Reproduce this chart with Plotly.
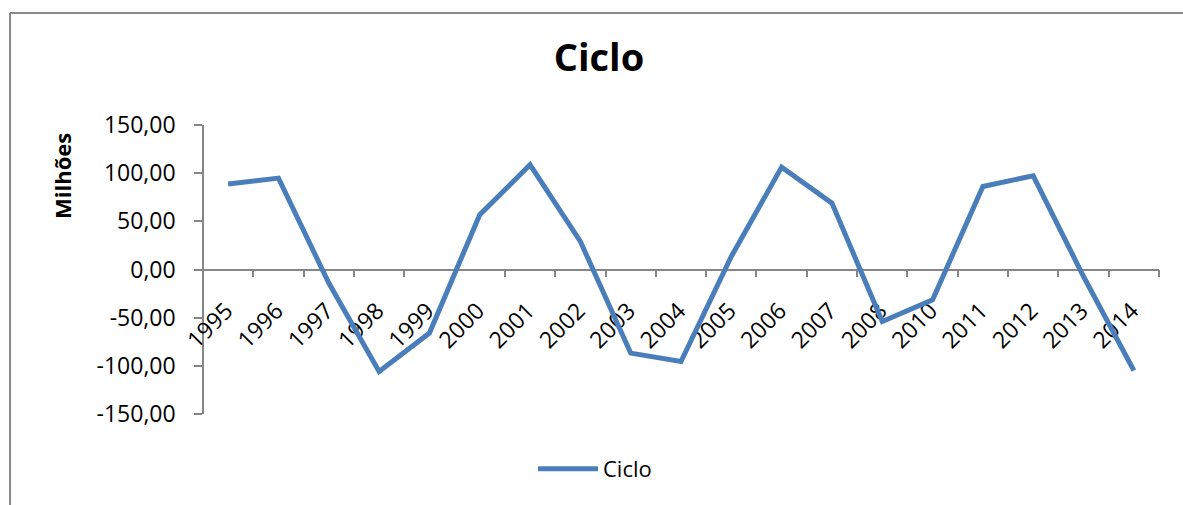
import plotly.graph_objects as go

# Cycle component of the series, in millions
years = ["1995", "1996", "1997", "1998", "1999", "2000", "2001", "2002", "2003", "2004",
         "2005", "2006", "2007", "2008", "2010", "2011", "2012", "2013", "2014"]
ciclo = [88.7, 94.9, -14.1, -105.9, -66.0, 56.8, 108.7, 29.1, -86.8, -95.5,
         13.5, 106.3, 68.9, -54.0, -31.5, 86.2, 97.3, -7.3, -104.9]

y_tick_vals = [-150, -100, -50, 0, 50, 100, 150]
y_tick_text = ["-150,00", "-100,00", "-50,00", "0,00", "50,00", "100,00", "150,00"]

W, H = 1183, 505
L, R, T, B = 203, 24, 125, 91
PW, PH = W - L - R, H - T - B

def px(x):
    return (x - L) / PW

def py(y):
    return (H - B - y) / PH

FONT = "Open Sans"
AXIS_GREY = "#868686"
BLUE = "#4A7EBB"

fig = go.Figure()
fig.add_trace(go.Scatter(
    x=years, y=ciclo, mode="lines", name="Ciclo",
    line=dict(color=BLUE, width=5),
))

fig.update_layout(
    width=W, height=H,
    margin=dict(l=L, r=R, t=T, b=B),
    paper_bgcolor="white", plot_bgcolor="white",
    font=dict(family=FONT, color="black", size=23),
    title=dict(text="<b>Ciclo</b>", x=599 / W, y=1 - 58 / H,
               xanchor="center", yanchor="middle",
               font=dict(family=FONT, size=38, color="black")),
    showlegend=True,
    legend=dict(orientation="h", x=px(595), y=py(469),
                xanchor="center", yanchor="middle",
                itemwidth=60,
                font=dict(family=FONT, size=22, color="black"),
                bgcolor="rgba(0,0,0,0)"),
    xaxis=dict(
        type="category", anchor="free", position=0.5,
        range=[-0.5, len(years) - 0.5],
        showline=True, linecolor=AXIS_GREY, linewidth=1.5,
        showgrid=False, zeroline=False,
        ticks="outside", tickson="boundaries", ticklen=7,
        tickwidth=1.5, tickcolor=AXIS_GREY,
        tickangle=-45, ticklabelstandoff=18, ticklabelshift=-2,
        tickfont=dict(family=FONT, size=23, color="black"),
        layer="below traces",
    ),
    yaxis=dict(
        range=[-150, 150], anchor="free", position=0,
        tickvals=y_tick_vals, ticktext=y_tick_text,
        showline=True, linecolor=AXIS_GREY, linewidth=1.5,
        showgrid=False, zeroline=False,
        ticks="outside", ticklen=8, tickwidth=1.5, tickcolor=AXIS_GREY,
        ticklabelstandoff=14,
        tickfont=dict(family=FONT, size=23, color="black"),
        layer="below traces",
    ),
)

# Y-axis title
fig.add_annotation(
    text="<b>Milhões</b>", textangle=-90, showarrow=False,
    xref="paper", yref="paper", x=px(62), y=py(176),
    xanchor="center", yanchor="middle",
    font=dict(family=FONT, size=22, color="black"),
)

# Chart-area frame (left and top edges)
frame = dict(color="#8a8a8a", width=2)
fig.add_shape(type="line", xref="paper", yref="paper",
              x0=px(10), x1=px(10), y0=py(13), y1=py(H + 5), line=frame)
fig.add_shape(type="line", xref="paper", yref="paper",
              x0=px(10), x1=px(W + 5), y0=py(13), y1=py(13), line=frame)

fig.write_html("out.html")
